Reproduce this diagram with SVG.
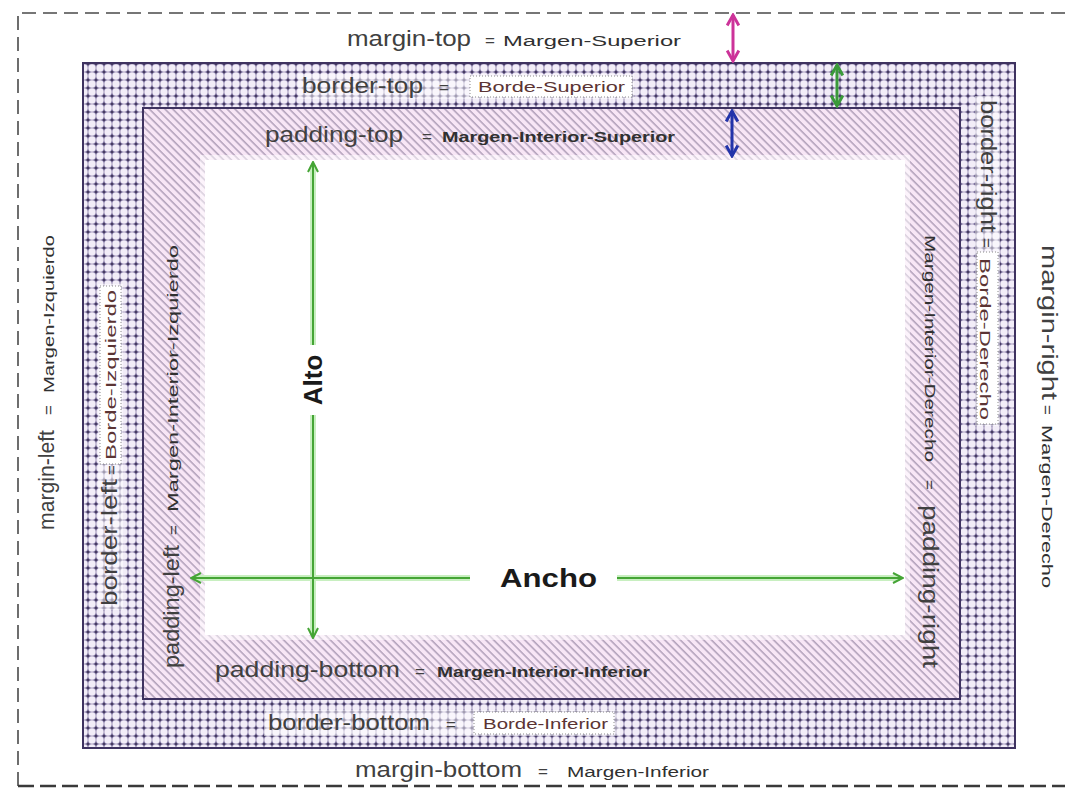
<svg xmlns="http://www.w3.org/2000/svg" width="1065" height="792" viewBox="0 0 1065 792">
<style>
.t{font-family:"Liberation Sans",Arial,sans-serif;fill:#404040}
.lbl{font-size:22px}
.sub{font-size:14px;fill:#303030}
.eq{font-size:17px}
.brd{fill:#5b3434}
.big{font-weight:bold;fill:#1a1a1a;font-size:26px}
.dash{fill:none;stroke:#4a4a4a;stroke-width:1.6;stroke-dasharray:14 7}
.box{stroke:#3e3260;stroke-width:2}
.wash{fill:#ffffff;fill-opacity:0.5}
.tag{fill:#ffffff;stroke:#8a8a8a;stroke-width:1;stroke-dasharray:1 2}
.glow{stroke:#c8efc0;stroke-width:6;fill:none}
.garrow{stroke:#45a535;stroke-width:2;fill:none}
</style>
<defs>
<pattern id="borderPat" width="8" height="8" patternUnits="userSpaceOnUse">
<rect width="8" height="8" fill="#7a6e9c"/>
<circle cx="4" cy="4" r="3.7" fill="#f2edf8"/>
<circle cx="0" cy="0" r="0.9" fill="#2e2444"/>
<circle cx="8" cy="0" r="0.9" fill="#2e2444"/>
<circle cx="0" cy="8" r="0.9" fill="#2e2444"/>
<circle cx="8" cy="8" r="0.9" fill="#2e2444"/>
</pattern>
<pattern id="padPat" width="5.5" height="5.5" patternUnits="userSpaceOnUse" patternTransform="rotate(-45)">
<rect width="5.5" height="5.5" fill="#f8e6f6"/>
<line x1="1" y1="0" x2="1" y2="5.5" stroke="#7e6e8e" stroke-width="0.9"/>
</pattern>
<marker id="gHead" viewBox="0 0 12 12" refX="11" refY="6" markerWidth="12" markerHeight="12" markerUnits="userSpaceOnUse" orient="auto-start-reverse">
<path d="M1,1 L11,6 L1,11" fill="none" stroke="#45a535" stroke-width="2"/>
</marker>
<marker id="mHead" viewBox="0 0 12 12" refX="10" refY="6" markerWidth="14" markerHeight="14" markerUnits="userSpaceOnUse" orient="auto-start-reverse">
<path d="M1,1 L10,6 L1,11" fill="none" stroke="#cc3399" stroke-width="2.5"/>
</marker>
<marker id="grHead" viewBox="0 0 12 12" refX="10" refY="6" markerWidth="14" markerHeight="14" markerUnits="userSpaceOnUse" orient="auto-start-reverse">
<path d="M1,1 L10,6 L1,11" fill="none" stroke="#3a9a3a" stroke-width="2.5"/>
</marker>
<marker id="bHead" viewBox="0 0 12 12" refX="10" refY="6" markerWidth="14" markerHeight="14" markerUnits="userSpaceOnUse" orient="auto-start-reverse">
<path d="M1,1 L10,6 L1,11" fill="none" stroke="#2233aa" stroke-width="2.5"/>
</marker>
</defs>
<rect width="1065" height="792" fill="#ffffff"/>

<g id="margin-box">
<path class="dash" d="M1065,13 H18 V786"/>
<path d="M18,786 H1065" fill="none" stroke="#3a3a3a" stroke-width="2.4" stroke-dasharray="16 6"/>
<text class="t lbl" x="347" y="46" textLength="124" lengthAdjust="spacingAndGlyphs">margin-top</text>
<text class="t eq" x="485" y="46">=</text>
<text class="t sub" x="503" y="46" textLength="178" lengthAdjust="spacingAndGlyphs">Margen-Superior</text>
<text class="t lbl" x="355" y="777" textLength="167" lengthAdjust="spacingAndGlyphs">margin-bottom</text>
<text class="t eq" x="538" y="777">=</text>
<text class="t sub" x="567" y="777" textLength="142" lengthAdjust="spacingAndGlyphs">Margen-Inferior</text>
<g transform="translate(54,530) rotate(-90)">
<text class="t lbl" x="0" y="0" textLength="100" lengthAdjust="spacingAndGlyphs">margin-left</text>
<text class="t eq" x="115" y="0">=</text>
<text class="t sub" x="137" y="0" textLength="158" lengthAdjust="spacingAndGlyphs">Margen-Izquierdo</text>
</g>
<g transform="translate(1042,245) rotate(90)">
<text class="t lbl" x="0" y="0" textLength="155" lengthAdjust="spacingAndGlyphs">margin-right</text>
<text class="t eq" x="160" y="0">=</text>
<text class="t sub" x="180" y="0" textLength="163" lengthAdjust="spacingAndGlyphs">Margen-Derecho</text>
</g>
</g>

<g id="border-box">
<rect class="box" x="83" y="63" width="932" height="685" fill="url(#borderPat)"/>
<rect class="wash" x="298" y="74" width="336" height="25"/>
<rect class="tag" x="470" y="76" width="162" height="21"/>
<text class="t lbl" x="302" y="93" textLength="121" lengthAdjust="spacingAndGlyphs">border-top</text>
<text class="t eq" x="439" y="93">=</text>
<text class="t sub brd" x="478" y="92" textLength="147" lengthAdjust="spacingAndGlyphs">Borde-Superior</text>
<rect class="wash" x="264" y="710" width="356" height="26"/>
<rect class="tag" x="474" y="712" width="140" height="22"/>
<text class="t lbl" x="268" y="730" textLength="162" lengthAdjust="spacingAndGlyphs">border-bottom</text>
<text class="t eq" x="446" y="730">=</text>
<text class="t sub brd" x="483" y="729" textLength="125" lengthAdjust="spacingAndGlyphs">Borde-Inferior</text>
<rect class="wash" x="98" y="284" width="25" height="326"/>
<rect class="tag" x="100" y="286" width="21" height="178"/>
<g transform="translate(117,606) rotate(-90)">
<text class="t lbl" x="0" y="0" textLength="127" lengthAdjust="spacingAndGlyphs">border-left</text>
<text class="t eq" x="131" y="0">=</text>
<text class="t sub brd" x="146" y="-1" textLength="170" lengthAdjust="spacingAndGlyphs">Borde-Izquierdo</text>
</g>
<rect class="wash" x="975" y="96" width="25" height="330"/>
<rect class="tag" x="977" y="252" width="21" height="172"/>
<g transform="translate(981,100) rotate(90)">
<text class="t lbl" x="0" y="0" textLength="132" lengthAdjust="spacingAndGlyphs">border-right</text>
<text class="t eq" x="138" y="0">=</text>
<text class="t sub brd" x="158" y="1" textLength="162" lengthAdjust="spacingAndGlyphs">Borde-Derecho</text>
</g>
</g>

<g id="padding-box">
<rect class="box" x="143" y="108" width="817" height="591" fill="url(#padPat)"/>
<text class="t lbl" x="265" y="142" textLength="138" lengthAdjust="spacingAndGlyphs">padding-top</text>
<text class="t eq" x="422" y="142">=</text>
<text class="t sub" x="442" y="142" font-weight="bold" textLength="233" lengthAdjust="spacingAndGlyphs">Margen-Interior-Superior</text>
<text class="t lbl" x="215" y="677" textLength="185" lengthAdjust="spacingAndGlyphs">padding-bottom</text>
<text class="t eq" x="415" y="677">=</text>
<text class="t sub" x="437" y="677" font-weight="bold" textLength="213" lengthAdjust="spacingAndGlyphs">Margen-Interior-Inferior</text>
<g transform="translate(179,668) rotate(-90)">
<text class="t lbl" x="0" y="0" textLength="123" lengthAdjust="spacingAndGlyphs">padding-left</text>
<text class="t eq" x="133" y="0">=</text>
<text class="t sub" x="156" y="-1" textLength="267" lengthAdjust="spacingAndGlyphs">Margen-Interior-Izquierdo</text>
</g>
<g transform="translate(925,235) rotate(90)">
<text class="t sub" x="0" y="0" textLength="227" lengthAdjust="spacingAndGlyphs">Margen-Interior-Derecho</text>
<text class="t eq" x="245" y="1">=</text>
<text class="t lbl" x="270" y="2" textLength="163" lengthAdjust="spacingAndGlyphs">padding-right</text>
</g>
</g>

<g id="content-box">
<rect x="205" y="160" width="700" height="475" fill="#ffffff" stroke="#ffffff" stroke-opacity="0.5" stroke-width="10"/>
<text class="t big" transform="translate(322,380) rotate(-90)" text-anchor="middle" font-size="24">Alto</text>
<text class="t big" x="500" y="587" textLength="97" lengthAdjust="spacingAndGlyphs">Ancho</text>
</g>

<g id="connectors">
<path class="glow" d="M313,165 V345 M313,415 V635 M195,578 H470 M617,578 H900"/>
<path class="garrow" d="M313,162 V345" marker-start="url(#gHead)"/>
<path class="garrow" d="M313,415 V638" marker-end="url(#gHead)"/>
<path class="garrow" d="M191,578 H470" marker-start="url(#gHead)"/>
<path class="garrow" d="M617,578 H903" marker-end="url(#gHead)"/>
<path d="M733,15 V61" stroke="#cc3399" stroke-width="3" fill="none" marker-start="url(#mHead)" marker-end="url(#mHead)"/>
<path d="M837,65 V106" stroke="#3a9a3a" stroke-width="3" fill="none" marker-start="url(#grHead)" marker-end="url(#grHead)"/>
<path d="M732,111 V156" stroke="#2233aa" stroke-width="3" fill="none" marker-start="url(#bHead)" marker-end="url(#bHead)"/>
</g>
</svg>
